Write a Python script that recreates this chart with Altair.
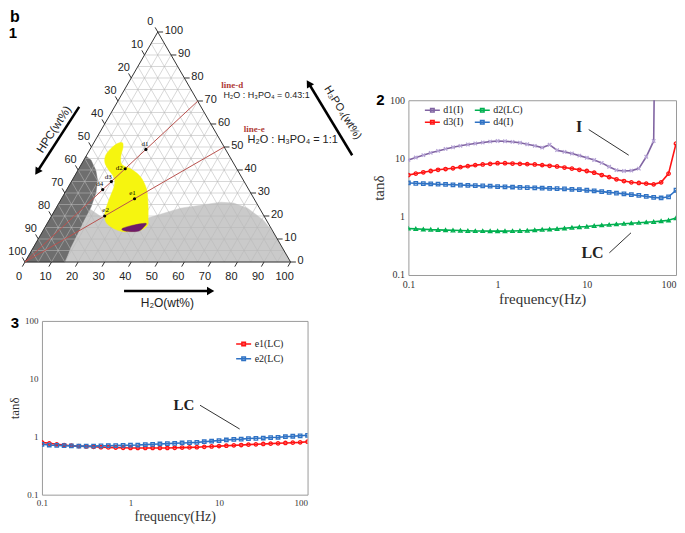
import altair as alt
import pandas as pd
import numpy as np

S3 = np.sqrt(3) / 2

# ---------------- panel 1 : ternary diagram (H2O wt%, H3PO4 wt%, HPC = rest) ----------------
dark_h2o = [0, 2.7, 6.7, 9.5, 11.7, 12.9, 13.1, 13.6, 14.0, 15.0, 0]
dark_h3po4 = [46, 44.3, 39.9, 35.6, 30.0, 23.9, 18.2, 12.6, 6.5, 0, 0]

light_h2o = [12.3, 19.8, 29.3, 36.7, 46.9, 53.8, 60.7, 65.8, 72.1, 80.7, 87.3, 94.0, 100, 0]
light_h3po4 = [23.4, 19.1, 17.4, 19.1, 23.4, 24.7, 26.0, 25.6, 23.4, 18.2, 12.6, 6.0, 0, 0]

yellow_h2o = [10.8, 9.1, 7.7, 7.2, 8.3, 10.8, 14.1, 16.0, 17.2, 17.8, 18.4, 19.5, 21.7, 24.7, 28.7,
              32.0, 36.7, 38.1, 36.8, 34.2, 32.0, 30.2, 27.4, 24.0, 19.7, 16.4, 14.4, 12.9, 12.1]
yellow_h3po4 = [51.8, 51.5, 49.4, 46.5, 43.5, 40.7, 37.8, 35.6, 32.7, 29.1, 25.5, 21.1, 17.5, 15.3, 13.6,
                13.2, 13.9, 16.1, 19.1, 24.3, 28.3, 31.3, 34.7, 37.8, 40.4, 41.7, 43.4, 46.5, 49.5]

purple_h2o = [29.4, 33.1, 37.1, 37.2, 36.2, 33.3, 30.5]
purple_h3po4 = [14.6, 16.1, 16.8, 15.3, 13.5, 13.2, 13.6]

line_names = ["line-d", "line-e"]
line_ratio = [0.43, 1.0]  # H2O : H3PO4
line_formula = ["H₂O : H₃PO₄ = 0.43:1", "H₂O : H₃PO₄ = 1:1"]

sample_names = ["d1", "d2", "d3", "d4", "e1", "e2"]
sample_line = [0, 0, 0, 0, 1, 1]
sample_hpc = [30, 42, 50, 55, 45, 60]

tick_vals = list(range(0, 101, 10))
grid_vals = list(range(5, 100, 5))

# ---------------- panels 2 and 3 : tan(delta) vs frequency ----------------
freq = [0.1, 0.121, 0.147, 0.178, 0.215, 0.261, 0.316, 0.383, 0.464, 0.562, 0.681, 0.825,
        1.0, 1.21, 1.47, 1.78, 2.15, 2.61, 3.16, 3.83, 4.64, 5.62, 6.81, 8.25,
        10.0, 12.1, 14.7, 17.8, 21.5, 26.1, 31.6, 38.3, 46.4, 56.2, 68.1, 82.5, 100.0]

d1_freq = freq[:34] + [57.0]
d1_val = [9.4, 10.4, 11.4, 12.5, 13.5, 14.6, 15.6, 16.5, 17.4, 18.1, 18.8, 19.5,
          20.0, 19.8, 19.3, 18.6, 17.6, 16.5, 15.4, 17.2, 13.9, 13.0, 12.2, 11.2,
          10.3, 9.4, 8.4, 7.2, 6.3, 6.1, 6.2, 6.7, 10.7, 20.0, 150.0]
d3_val = [5.2, 5.5, 5.8, 6.1, 6.4, 6.6, 6.8, 7.1, 7.4, 7.7, 7.9, 8.1,
          8.3, 8.3, 8.2, 8.1, 8.0, 7.9, 7.7, 7.5, 7.3, 7.0, 6.7, 6.4,
          6.1, 5.7, 5.2, 4.8, 4.4, 4.1, 3.9, 3.8, 3.7, 3.6, 3.9, 5.5, 18.0]
d2_val = [0.63, 0.62, 0.61, 0.6, 0.595, 0.59, 0.585, 0.58, 0.575, 0.57, 0.57, 0.567,
          0.567, 0.567, 0.57, 0.575, 0.58, 0.59, 0.6, 0.61, 0.62, 0.635, 0.65, 0.665,
          0.68, 0.7, 0.715, 0.73, 0.745, 0.76, 0.775, 0.79, 0.805, 0.82, 0.84, 0.87, 0.95]
d4_val = [3.8, 3.75, 3.7, 3.66, 3.62, 3.58, 3.54, 3.5, 3.46, 3.42, 3.38, 3.34,
          3.3, 3.27, 3.24, 3.2, 3.17, 3.14, 3.1, 3.07, 3.03, 3.0, 2.96, 2.91,
          2.85, 2.78, 2.7, 2.62, 2.55, 2.47, 2.4, 2.32, 2.24, 2.15, 2.1, 2.2, 2.85]

e1_val = [0.80, 0.77, 0.74, 0.72, 0.70, 0.69, 0.68, 0.67, 0.66, 0.655, 0.65, 0.645,
          0.64, 0.64, 0.64, 0.64, 0.64, 0.64, 0.645, 0.65, 0.655, 0.66, 0.67, 0.68,
          0.69, 0.70, 0.71, 0.72, 0.73, 0.74, 0.75, 0.76, 0.77, 0.78, 0.79, 0.80, 0.82]
e2_val = [0.74, 0.72, 0.71, 0.70, 0.695, 0.69, 0.69, 0.69, 0.695, 0.70, 0.705, 0.71,
          0.715, 0.72, 0.73, 0.74, 0.75, 0.76, 0.77, 0.78, 0.79, 0.80, 0.82, 0.84,
          0.86, 0.88, 0.90, 0.91, 0.93, 0.94, 0.95, 0.97, 0.98, 1.0, 1.02, 1.04, 1.06]

series2 = ["d1(I)", "d3(I)", "d2(LC)", "d4(I)"]
colors2 = ["#8064a2", "#ff1414", "#00b050", "#2f72c4"]
marker_colors2 = ["#b7a5d6", "#ff1414", "#00b050", "#2f72c4"]
series3 = ["e1(LC)", "e2(LC)"]
colors3 = ["#ff1414", "#2f72c4"]

SANS = "Liberation Sans"
SERIF = "Liberation Serif"

# ======================= ternary panel =======================
# The ternary panel shares its origin with panel 2 (top) and panel 3 (left);
# its drawing extends above / left of that origin (marks are not clipped).
PX = 2.66
OX, OY = 41, 100          # page position of the panel origin
TW, TH = 323, 209
XMIN = (OX - 24) / PX
XMAX = XMIN + TW / PX
YMAX = (262 - OY) / PX
YMIN = YMAX - TH / PX
xs = alt.Scale(domain=[XMIN, XMAX], nice=False, zero=False)
ys = alt.Scale(domain=[YMIN, YMAX], nice=False, zero=False)
TX = alt.X("X:Q", scale=xs, axis=None)
TY = alt.Y("Y:Q", scale=ys, axis=None)


def cart(h2o, h3po4):
    return h2o + h3po4 / 2.0, h3po4 * S3


def poly_chart(h2o, h3po4, color, interp="linear-closed"):
    pts = [cart(a, c) for a, c in zip(h2o, h3po4)]
    df = pd.DataFrame({"X": [p[0] for p in pts], "Y": [p[1] for p in pts], "i": range(len(pts))})
    return alt.Chart(df).mark_line(fill=color, stroke=color, strokeWidth=0.5,
                                   interpolate=interp).encode(x=TX, y=TY, order="i:Q")


def seg_df(segs):
    return pd.DataFrame(segs, columns=["X", "Y", "X2", "Y2"])


def rule_chart(df, color, width, opacity=1.0):
    return alt.Chart(df).mark_rule(color=color, strokeWidth=width, opacity=opacity).encode(
        x=TX, y=TY, x2="X2:Q", y2="Y2:Q")


grid_segs = []
for k in grid_vals:
    grid_segs.append([*cart(0, k), *cart(100 - k, k)])       # const H3PO4
    grid_segs.append([*cart(k, 0), *cart(k, 100 - k)])       # const H2O
    grid_segs.append([*cart(0, 100 - k), *cart(100 - k, 0)])  # const HPC

edge_segs = [[*cart(0, 0), *cart(100, 0)], [*cart(100, 0), *cart(0, 100)], [*cart(0, 100), *cart(0, 0)]]

TL = 2.0
tick_segs = []
for k in tick_vals:
    x, y = cart(k, 0)
    tick_segs.append([x, y, x - 0.5 * TL, y - S3 * TL])
    x, y = cart(100 - k, k)
    tick_segs.append([x, y, x + TL, y])
    x, y = cart(0, 100 - k)
    tick_segs.append([x, y, x - 0.5 * TL, y + S3 * TL])

bottom_lab = pd.DataFrame({"X": [cart(k, 0)[0] for k in tick_vals], "Y": 0.0, "t": [str(k) for k in tick_vals]})
right_lab = pd.DataFrame({"X": [cart(100 - k, k)[0] for k in tick_vals],
                          "Y": [cart(100 - k, k)[1] for k in tick_vals], "t": [str(k) for k in tick_vals]})
left_lab = pd.DataFrame({"X": [cart(0, 100 - k)[0] for k in tick_vals],
                         "Y": [cart(0, 100 - k)[1] for k in tick_vals], "t": [str(k) for k in tick_vals]})


def text_chart(df, **kw):
    base = dict(font=SANS, fontSize=11, color="#222222", baseline="middle")
    base.update(kw)
    return alt.Chart(df).mark_text(**base).encode(x=TX, y=TY, text="t:N")


line_segs = []
for r in line_ratio:
    line_segs.append([0.0, 0.0, *cart(100 * r / (1 + r), 100 / (1 + r))])

s_rows = []
for name, li, h in zip(sample_names, sample_line, sample_hpc):
    r = line_ratio[li]
    rest = 100 - h
    x, y = cart(rest * r / (1 + r), rest / (1 + r))
    s_rows.append({"X": x, "Y": y, "t": name})
samples_df = pd.DataFrame(s_rows)
label_dx = [-1, -6, -3, -3, -2, 1]
label_dy = [-5, -1, -5, -6, -6, -6]

# annotation positions (ternary drawing units)
lines_ann = pd.DataFrame({"X": [73.9, 82.4], "Y": [66.5, 49.9], "t": line_names})
formula_ann = pd.DataFrame({"X": [74.7, 83.8], "Y": [62.8, 45.9], "t": line_formula})
arrows = pd.DataFrame({"X": [20.4, 123.2, 37.3], "Y": [58.4, 40.2, -10.9],
                       "X2": [4.6, 106.8, 69.9], "Y2": [34.0, 67.3, -10.9]})
heads = pd.DataFrame({"X": [4.6, 106.8, 69.9], "Y": [34.0, 67.3, -10.9], "ang": [212.6, 328.6, 90]})
axis_titles = [("HPC(wt%)", 11.1, 49.8, 303, 11.5), ("H₃PO₄(wt%)", 119.6, 56.2, 58, 11),
               ("H₂O(wt%)", 53.6, -15.3, 0, 12)]

layers = [
    poly_chart(light_h2o, light_h3po4, "#cacaca"),
    poly_chart(dark_h2o, dark_h3po4, "#6e6e6e"),
    rule_chart(seg_df(grid_segs), "#b9b9b9", 0.7, 0.8),
    poly_chart(yellow_h2o, yellow_h3po4, "#f6f50f", "cardinal-closed"),
    poly_chart(purple_h2o, purple_h3po4, "#6e1a6a", "cardinal-closed"),
    rule_chart(seg_df(edge_segs), "#333333", 1.0),
    rule_chart(seg_df(tick_segs), "#333333", 1.0),
    text_chart(bottom_lab, align="center", dx=-6, dy=15),
    text_chart(right_lab, align="left", dx=7, dy=-1),
    text_chart(left_lab, align="center", dx=-7.5, dy=-10),
    rule_chart(seg_df(line_segs), "#b9524e", 1.0),
    alt.Chart(samples_df).mark_point(filled=True, color="black", size=10, opacity=1).encode(x=TX, y=TY),
]
for i in range(len(sample_names)):
    layers.append(alt.Chart(samples_df.iloc[[i]]).mark_text(
        font=SERIF, fontSize=7, color="black", dx=label_dx[i], dy=label_dy[i]).encode(x=TX, y=TY, text="t:N"))
layers += [
    text_chart(lines_ann, font=SERIF, fontSize=9, fontWeight="bold", color="#b03a36", align="left"),
    text_chart(formula_ann.iloc[[0]], fontSize=9, align="left", color="#222222"),
    text_chart(formula_ann.iloc[[1]], fontSize=11, align="left", color="#222222"),
    rule_chart(arrows, "black", 2.5),
    alt.Chart(heads).mark_point(shape="triangle-up", filled=True, color="black", size=70, opacity=1).encode(
        x=TX, y=TY, angle=alt.Angle("ang:Q", scale=None)),
]
for t, x, y, a, fs in axis_titles:
    layers.append(text_chart(pd.DataFrame({"X": [x], "Y": [y], "t": [t]}), fontSize=fs, angle=a, align="center"))
layers.append(text_chart(pd.DataFrame({"X": [-5.6], "Y": [92.4], "t": ["b"]}), fontSize=16,
                         fontWeight="bold", align="left", color="black"))
layers.append(text_chart(pd.DataFrame({"X": [-4.5], "Y": [86.4], "t": ["1"]}), fontSize=15,
                         fontWeight="bold", align="center", color="black"))

ternary = alt.layer(*layers).properties(width=TW, height=TH, view=alt.ViewBackground(stroke=None))

# ======================= frequency panels =======================
LEG_PATH = "M-1.5,0L1.5,0M-0.35,-0.35L0.35,-0.35L0.35,0.35L-0.35,0.35Z"
X_PATH = "M-1,-1L1,1M-1,1L1,-1"


def freq_panel(df, order, colors, mcolors, shapes, ann_txt, ann_seg, leg, panel_label, label_pos, sizes):
    lab_fs, title_fs, xt_fs, ann_fs, w, h, lpad, tpad = sizes
    xsc = alt.Scale(type="log", domain=[0.1, 100], nice=False)
    ysc = alt.Scale(type="log", domain=[0.1, 100], nice=False)
    ax = dict(values=[0.1, 1, 10, 100], format="~g", grid=False, ticks=False, domain=False,
              labelFont=SERIF, labelFontSize=lab_fs, labelColor="#333333", labelFlush=False,
              titleFont=SERIF, titleFontWeight="normal", titleColor="#333333")
    X = alt.X("f:Q", scale=xsc, axis=alt.Axis(
        title="frequency(Hz)", titleFontSize=xt_fs, labelPadding=lpad, titlePadding=tpad,
        labelAlign={"condition": {"test": "datum.value >= 100", "value": "right"}, "value": "center"},
        **ax))
    Y = alt.Y("v:Q", scale=ysc, axis=alt.Axis(title="tanδ", titleFontSize=title_fs,
                                              labelPadding=4, titlePadding=3, **ax))
    lines = alt.Chart(df).mark_line(strokeWidth=1.6, clip=True).encode(
        x=X, y=Y,
        color=alt.Color("s:N", scale=alt.Scale(domain=order, range=colors),
                        legend=alt.Legend(title=None, orient="none", legendX=leg[0], legendY=leg[1],
                                          columns=leg[2], symbolType=LEG_PATH,
                                          symbolSize=100, symbolStrokeWidth=1.5, labelFont=SERIF,
                                          labelFontSize=10, labelColor="#222222", padding=0,
                                          rowPadding=leg[3], columnPadding=8, labelOffset=5)),
        order="o:Q")
    layers = [lines]
    for s, mc, shp in zip(order, mcolors, shapes):
        layers.append(alt.Chart(df[(df["s"] == s) & (df["m"] == 1)]).mark_point(
            filled=False, size=12, strokeWidth=1.3, clip=True, color=mc, shape=shp, opacity=1).encode(x=X, y=Y))
    txt = alt.Chart(pd.DataFrame(ann_txt, columns=["f", "v", "t"])).mark_text(
        font=SERIF, fontSize=ann_fs, fontWeight="bold", color="#222222").encode(x=X, y=Y, text="t:N")
    seg = alt.Chart(pd.DataFrame(ann_seg, columns=["f", "v", "f2", "v2"])).mark_rule(
        color="#333333", strokeWidth=1).encode(x=X, y=Y, x2="f2:Q", y2="v2:Q")
    lab = alt.Chart(pd.DataFrame({"t": [panel_label]})).mark_text(
        font=SANS, fontSize=15, fontWeight="bold", color="black").encode(
        x=alt.value(label_pos[0]), y=alt.value(label_pos[1]), text="t:N")
    layers += [seg, txt, lab]
    return alt.layer(*layers).properties(width=w, height=h, view=alt.ViewBackground(stroke="#9a9a9a"))


rows = []
for s, fl, vl in [("d1(I)", d1_freq, d1_val), ("d3(I)", freq, d3_val), ("d2(LC)", freq, d2_val), ("d4(I)", freq, d4_val)]:
    for j, (f, v) in enumerate(zip(fl, vl)):
        rows.append({"s": s, "f": f, "v": v, "o": j, "m": 1 if v < 100 else 0})
df2 = pd.DataFrame(rows)

rows = []
for s, vl in [("e1(LC)", e1_val), ("e2(LC)", e2_val)]:
    for j, (f, v) in enumerate(zip(freq, vl)):
        rows.append({"s": s, "f": f, "v": v, "o": j, "m": 1})
df3 = pd.DataFrame(rows)

chart2 = freq_panel(df2, series2, colors2, marker_colors2, [X_PATH, "circle", "triangle-up", "square"],
                    [[8.2, 34.9, "I"], [11.6, 0.235, "LC"]],
                    [[10.5, 31.4, 29.5, 11.4], [17.9, 0.24, 31.3, 0.53]],
                    (18, 4, 2, 1), "2", (-28, 0), (10, 15, 15, 16, 268, 175, 5, 2))
chart3 = freq_panel(df3, series3, colors3, colors3, ["circle", "square"],
                    [[4.0, 3.5, "LC"]],
                    [[6.1, 3.5, 17.1, 1.36]],
                    (196, 17, 1, 4), "3", (-27, 2), (9, 13, 14, 15, 266, 174, 4, 2))

chart = alt.concat(ternary, chart2, chart3, columns=2, spacing={"row": 6, "column": 6}, align="all").resolve_scale(
    color="independent").resolve_legend(color="independent").properties(
    padding=0, background="white").configure_view(stroke=None)

chart.save("out.html", embed_options={"renderer": "svg", "actions": False})
